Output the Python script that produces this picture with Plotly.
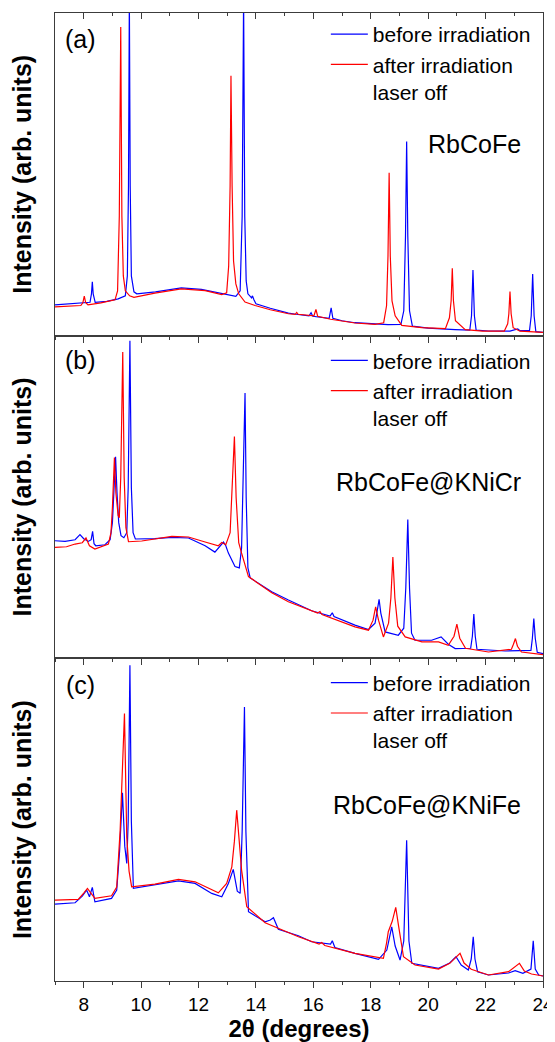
import plotly.graph_objects as go
from plotly.subplots import make_subplots

# ---- data (2theta in degrees, intensity in arb. units) ----
# (a) RbCoFe
a_before_x = [7.00, 7.50, 7.90, 8.22, 8.27, 8.30, 8.33, 8.40, 8.80, 9.20, 9.45, 9.52, 9.56, 9.59, 9.62, 9.66,
              9.75, 9.85, 10.50, 11.00, 11.40, 12.10, 12.80, 13.30, 13.45, 13.52, 13.57, 13.61, 13.66, 13.72,
              13.85, 13.88, 13.93, 14.00, 14.50, 15.13, 15.40, 15.85, 15.92, 15.98, 16.55, 16.62, 16.68, 17.00,
              17.45, 18.00, 18.60, 19.05, 19.15, 19.21, 19.25, 19.29, 19.35, 19.45, 20.00, 20.94, 21.45, 21.51,
              21.56, 21.61, 21.67, 22.10, 22.85, 23.12, 23.20, 23.53, 23.59, 23.64, 23.69, 23.75, 24.00]
a_before_y = [31, 32, 32.7, 33.5, 42, 54, 42, 33.5, 34.5, 37, 40, 60, 150, 340, 150, 60,
              44, 42, 44, 46.5, 48, 46.5, 42, 39.5, 45, 120, 340, 120, 55, 42,
              38, 40, 36, 32, 27.5, 22.7, 21.5, 20, 23, 19.5, 17.5, 28, 17.5, 15,
              13, 11.8, 11, 11.3, 25, 100, 195, 100, 25, 9.5, 7.5, 6, 5.5, 20,
              66, 20, 5.5, 4.7, 4.5, 6.7, 5, 5, 20, 62, 20, 4, 3.3]
a_after_x = [7.00, 7.50, 7.90, 7.97, 8.02, 8.07, 8.15, 8.60, 9.09, 9.18, 9.24, 9.29, 9.33, 9.38, 9.45, 9.60,
             9.75, 10.48, 11.40, 12.23, 12.81, 12.98, 13.05, 13.10, 13.13, 13.17, 13.22, 13.30, 13.40, 13.62,
             13.97, 14.50, 15.13, 15.37, 15.42, 15.47, 16.02, 16.09, 16.15, 16.60, 17.45, 18.15, 18.45, 18.55,
             18.60, 18.64, 18.68, 18.74, 18.85, 19.08, 19.78, 20.60, 20.74, 20.80, 20.84, 20.88, 20.95, 21.29,
             21.90, 22.65, 22.77, 22.81, 22.85, 22.89, 22.96, 23.20, 24.00]
a_after_y = [29, 29.5, 30.3, 33, 39.7, 33, 31, 33, 36, 45, 120, 310, 120, 60, 45, 40,
             38.5, 42.7, 47, 45.3, 41.3, 43, 70, 150, 261, 150, 75, 52, 42, 33.7,
             30.3, 26, 22, 21.5, 23.3, 21.5, 20, 26.3, 19.5, 16.5, 12.7, 11.3, 13, 30,
             80, 163.7, 80, 35, 20, 10.3, 8, 7, 18, 35, 67.7, 35, 15, 6,
             4.5, 4.5, 12, 22, 44.3, 22, 8, 4.5, 3.3]

# (b) RbCoFe@KNiCr
b_before_x = [7.00, 7.35, 7.70, 7.87, 8.00, 8.16, 8.26, 8.31, 8.36, 8.42, 8.74, 8.92, 9.00, 9.05, 9.11, 9.16,
              9.22, 9.30, 9.40, 9.50, 9.55, 9.61, 9.66, 9.72, 9.80, 10.48, 11.07, 11.65, 12.23, 12.57, 12.80,
              12.87, 12.95, 13.04, 13.27, 13.42, 13.50, 13.57, 13.62, 13.66, 13.72, 13.80, 14.55, 15.13, 15.94,
              16.58, 16.66, 16.72, 17.45, 17.92, 18.15, 18.24, 18.29, 18.35, 18.50, 18.96, 19.15, 19.22, 19.29,
              19.35, 19.42, 19.54, 20.12, 20.45, 20.70, 20.94, 21.48, 21.54, 21.59, 21.64, 21.70, 22.68, 23.58,
              23.63, 23.68, 23.73, 23.80, 24.00]
b_before_y = [117, 116.3, 118, 123, 119, 116.3, 118, 126.3, 114, 112, 113, 118, 135, 165, 200.5, 165,
              135, 122, 120, 125, 170, 316, 170, 125, 118.7, 119, 120.3, 119.7, 112, 105.7, 113,
              115.7, 112, 104.7, 91.3, 90, 110, 190, 264, 160, 90, 80, 66.3, 58, 47.3,
              42, 45.3, 41.5, 33, 28.7, 35, 50, 58.7, 45, 26.3, 23, 30, 70, 138,
              70, 25, 18, 18, 21.3, 14, 9.7, 10, 22, 44, 22, 9, 7.3, 8,
              20, 39.7, 20, 6, 4.7]
b_after_x = [7.00, 7.40, 7.70, 7.95, 8.08, 8.20, 8.39, 8.60, 8.86, 8.95, 9.00, 9.07, 9.12, 9.20, 9.24, 9.29,
             9.36, 9.41, 9.47, 9.56, 10.02, 11.07, 11.65, 12.23, 12.69, 12.81, 12.95, 13.10, 13.18, 13.25,
             13.31, 13.40, 13.50, 13.74, 14.55, 15.13, 16.15, 16.23, 16.30, 17.45, 17.92, 18.08, 18.17, 18.27,
             18.44, 18.62, 18.70, 18.77, 18.84, 18.94, 19.20, 19.78, 20.36, 20.70, 20.90, 21.00, 21.10, 21.30,
             22.10, 22.90, 22.97, 23.04, 23.11, 23.25, 24.00]
b_after_y = [110.3, 111, 113.7, 115, 119.7, 112, 108.7, 111, 113.7, 125, 150, 199.7, 165, 142, 140, 180,
             304.7, 180, 130, 116, 116.7, 121.3, 120.7, 115.7, 112, 115.3, 113, 125, 170, 220.7,
             160, 115, 104.7, 81.3, 65.3, 56.3, 45, 46.5, 43.5, 31.3, 28, 38, 51.3, 38,
             21.3, 35, 60, 100.7, 60, 32, 21.3, 16.3, 16.3, 13, 22, 34, 20, 10,
             6.3, 9, 14, 19.7, 12, 6.3, 3.7]

# (c) RbCoFe@KNiFe
c_before_x = [7.00, 7.70, 7.95, 8.10, 8.20, 8.30, 8.39, 8.97, 9.15, 9.25, 9.35, 9.43, 9.50, 9.55, 9.61, 9.66,
              9.73, 10.48, 11.30, 11.88, 12.46, 12.81, 13.04, 13.21, 13.35, 13.45, 13.52, 13.60, 13.65, 13.74,
              14.32, 14.50, 14.61, 14.78, 15.48, 15.94, 16.60, 16.66, 16.75, 17.45, 18.27, 18.56, 18.73, 18.85,
              19.02, 19.15, 19.25, 19.33, 19.43, 20.36, 20.75, 20.97, 21.15, 21.40, 21.50, 21.57, 21.63, 21.72,
              22.10, 22.80, 23.03, 23.30, 23.58, 23.66, 23.73, 23.85, 24.00]
c_before_y = [77, 78.3, 85, 91, 84.3, 93.7, 79.3, 82.7, 91, 130, 188.3, 135, 117.7, 160, 316, 160,
              92.7, 96, 100.3, 97.7, 87.7, 84.3, 97.7, 111.7, 90, 87.7, 150, 274.3, 150, 69.3,
              59.3, 61, 63.3, 51.7, 45.3, 39.3, 37, 40.3, 33.5, 27.7, 21.7, 31, 54.3, 35,
              21, 40, 141, 40, 17.7, 12.7, 18, 24.3, 16, 11, 22, 44.3, 22, 9.3,
              6, 8, 10.3, 7.7, 12, 40.3, 12, 6, 5]
c_after_x = [7.00, 7.81, 8.00, 8.13, 8.25, 8.39, 8.97, 9.15, 9.27, 9.42, 9.50, 9.58, 9.67, 10.48, 11.30, 11.88,
             12.69, 12.98, 13.16, 13.25, 13.33, 13.42, 13.50, 13.68, 14.32, 15.48, 16.20, 16.29, 16.40, 17.45,
             18.44, 18.55, 18.61, 18.75, 18.87, 18.97, 19.14, 19.54, 20.36, 20.75, 21.11, 21.25, 21.50, 22.10,
             22.80, 23.18, 23.35, 23.60, 24.00]
c_after_y = [81, 81.7, 88, 92.7, 88, 82.7, 85.3, 94, 151, 267.7, 144, 110, 94.3, 97, 101.7, 99.3,
             88.3, 97.7, 114.3, 140, 171, 140, 111, 74.3, 58.3, 44.3, 37, 38.5, 35.5, 27.7,
             22.7, 38, 49.3, 60, 73.7, 55, 24.3, 16, 12, 17.7, 27.7, 18, 11.7, 6,
             9.3, 17.7, 10, 7, 5]

panels = [
    ("(a)", "RbCoFe", a_before_x, a_before_y, a_after_x, a_after_y, 324),
    ("(b)", "RbCoFe@KNiCr", b_before_x, b_before_y, b_after_x, b_after_y, 321),
    ("(c)", "RbCoFe@KNiFe", c_before_x, c_before_y, c_after_x, c_after_y, 323),
]

FONT = "Arial, Liberation Sans, sans-serif"
AXCOL = "#3c3c3c"

fig = make_subplots(rows=3, cols=1, shared_xaxes=True, vertical_spacing=0)

legend_names = ["legend", "legend2", "legend3"]
tag_y = [0.918, 0.925, 0.916]
label_y = [0.593, 0.545, 0.545]
for i, (tag, label, bx, by, ax, ay, ytop) in enumerate(panels):
    row = i + 1
    fig.add_trace(go.Scatter(x=bx, y=by, mode="lines", name="before irradiation",
                             line=dict(color="#0000ff", width=1.2), legend=legend_names[i]),
                  row=row, col=1)
    fig.add_trace(go.Scatter(x=ax, y=ay, mode="lines", name="after irradiation<br>laser off",
                             line=dict(color="#ff0000", width=1.2), legend=legend_names[i]),
                  row=row, col=1)
    fig.update_yaxes(range=[0, ytop], showticklabels=False, ticks="", showgrid=False, zeroline=False,
                     showline=True, linecolor=AXCOL, linewidth=1, mirror=True, automargin=False,
                     title=dict(text="Intensity (arb. units)", standoff=16,
                                font=dict(family=FONT, size=25, weight="bold", color="black")),
                     row=row, col=1)
    yd = "y domain" if i == 0 else "y%d domain" % (i + 1)
    fig.add_annotation(text=tag, xref="x domain", yref=yd, x=0.053, y=tag_y[i], xanchor="center",
                       yanchor="middle", showarrow=False, font=dict(family=FONT, size=25, color="black"))
    fig.add_annotation(text=label, xref="x domain", yref=yd, x=0.959, xanchor="right",
                       y=label_y[i], yanchor="middle", showarrow=False,
                       font=dict(family=FONT, size=25, color="black"))

fig.update_xaxes(range=[7, 24], showgrid=False, zeroline=False, showline=True, linecolor=AXCOL,
                 linewidth=1, mirror=True, ticks="outside", ticklen=6, tickcolor=AXCOL, tick0=8, dtick=2,
                 minor=dict(ticks="outside", ticklen=3, dtick=1, tick0=7, tickcolor=AXCOL),
                 tickfont=dict(family=FONT, size=19, color="black"), automargin=False)
fig.update_xaxes(title=dict(text="2θ (degrees)", standoff=6,
                            font=dict(family=FONT, size=24, weight="bold", color="black")),
                 row=3, col=1)

# ticks pointing down on top edge of panel (a)
fig.add_trace(go.Scatter(x=[None], y=[None], xaxis="x4", yaxis="y", showlegend=False, hoverinfo="skip"))
fig.update_layout(xaxis4=dict(overlaying="x", side="top", anchor="y", range=[7, 24], showline=False,
                              showgrid=False, zeroline=False, showticklabels=False, ticks="inside",
                              ticklen=6, tickcolor=AXCOL, tick0=8, dtick=2, automargin=False,
                              minor=dict(ticks="inside", ticklen=3, dtick=1, tick0=7, tickcolor=AXCOL)))

leg_y = [0.999, 0.662, 0.329]
leg = {}
for i, name in enumerate(legend_names):
    leg[name] = dict(x=0.555, y=leg_y[i], xanchor="left", yanchor="top", bgcolor="rgba(0,0,0,0)",
                     font=dict(family=FONT, size=21, color="black"), itemwidth=37, valign="top",
                     tracegroupgap=0)
fig.update_layout(**leg)

# page body adds an 8px offset, so the figure is 8px smaller than the window
fig.update_layout(width=547, height=1034, margin=dict(l=47, r=12, t=5, b=61),
                  plot_bgcolor="white", paper_bgcolor="white", showlegend=True,
                  font=dict(family=FONT, color="black"))

fig.write_html("out.html")
